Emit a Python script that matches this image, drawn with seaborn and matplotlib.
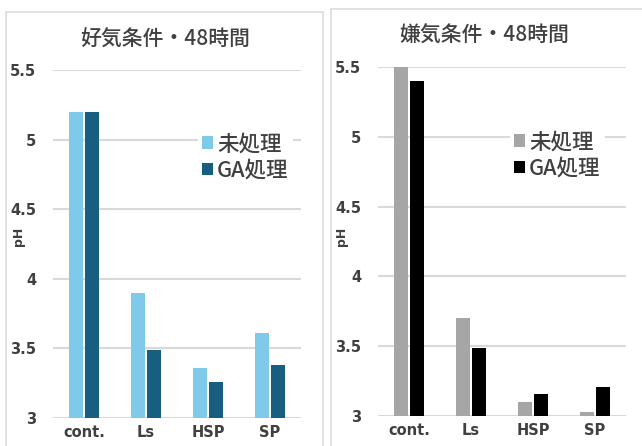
import matplotlib
matplotlib.use("Agg")
import matplotlib.pyplot as plt
from matplotlib.patches import Rectangle
import seaborn as sns
import pandas as pd

sns.set_theme(style="white")
plt.rcParams["font.family"] = ["Noto Sans CJK JP", "DejaVu Sans"]

# Samples and treatments
categories = ["cont.", "Ls", "HSP", "SP"]
treatments = ["未処理", "GA処理"]

# pH after 48 h, aerobic conditions
aerobic_untreated = [5.20, 3.90, 3.36, 3.61]
aerobic_ga = [5.20, 3.49, 3.26, 3.38]

# pH after 48 h, anaerobic conditions
anaerobic_untreated = [5.50, 3.70, 3.10, 3.03]
anaerobic_ga = [5.40, 3.49, 3.16, 3.21]

titles = ["好気条件・48時間", "嫌気条件・48時間"]
yticks = [3, 3.5, 4, 4.5, 5, 5.5]
ytick_labels = ["3", "3.5", "4", "4.5", "5", "5.5"]


def long_table(untreated, ga):
    return pd.DataFrame({
        "sample": categories * 2,
        "treatment": [treatments[0]] * len(categories) + [treatments[1]] * len(categories),
        "pH": list(untreated) + list(ga),
    })


W, H = 642, 446
fig = plt.figure(figsize=(W / 100, H / 100), dpi=100)
fig.patch.set_facecolor("white")

GRID = "#D9D9D9"
TEXT = "#404040"
LATIN = ["DejaVu Sans", "Noto Sans CJK JP"]
CJK = ["Noto Sans CJK JP", "DejaVu Sans"]

# panel frames (pixel boxes converted to figure fractions)
for x0, y0, x1 in [(6, 12, 323), (331, 9, 660)]:
    fig.add_artist(Rectangle((x0 / W, -0.05), (x1 - x0) / W, 1.05 - y0 / H,
                             transform=fig.transFigure, fill=False,
                             ec="#DCDCDC", lw=1.2))

panels = [
    dict(data=long_table(aerobic_untreated, aerobic_ga),
         palette=["#7FCAEB", "#175E80"], box=(53, 70, 301, 418),
         title=titles[0], title_xy=(165, 40), legend_xy=(187, 118),
         ylabel_x=18),
    dict(data=long_table(anaerobic_untreated, anaerobic_ga),
         palette=["#A6A6A6", "#000000"], box=(378, 67, 626, 416),
         title=titles[1], title_xy=(484, 36), legend_xy=(499, 116),
         ylabel_x=342),
]

for p in panels:
    l, t, r, b = p["box"]
    ax = fig.add_axes([l / W, 1 - b / H, (r - l) / W, (b - t) / H])
    sns.barplot(data=p["data"], x="sample", y="pH", hue="treatment",
                palette=p["palette"], width=0.52, gap=0.12, ax=ax,
                saturation=1, errorbar=None, edgecolor="none")
    ax.set_ylim(3, 5.5)
    ax.set_xlim(-0.5, 3.5)
    ax.set_yticks(yticks)
    ax.set_yticklabels(ytick_labels)
    ax.yaxis.grid(True, color=GRID, lw=1.5)
    ax.set_axisbelow(True)
    for s in ax.spines.values():
        s.set_visible(False)
    ax.tick_params(axis="both", length=0, colors=TEXT, labelsize=10.5)
    ax.tick_params(axis="y", pad=12)
    ax.tick_params(axis="x", pad=5)
    for lab in ax.get_xticklabels() + ax.get_yticklabels():
        lab.set_family(LATIN)
        lab.set_fontweight("bold")
    ax.set_xlabel("")
    ax.set_ylabel("")
    fig.text(p["ylabel_x"] / W, 1 - 236 / H, "pH", rotation=90,
             ha="center", va="center", fontsize=9, color=TEXT,
             family=LATIN, fontweight="bold")
    fig.text(p["title_xy"][0] / W, 1 - p["title_xy"][1] / H, p["title"],
             ha="center", va="center", fontsize=15, color=TEXT,
             family=CJK, fontweight="medium")
    handles, labels = ax.get_legend_handles_labels()
    lx, ly = p["legend_xy"]
    leg = ax.legend(handles, labels, loc="upper left",
                    bbox_to_anchor=(lx / W, 1 - ly / H),
                    bbox_transform=fig.transFigure, frameon=True,
                    facecolor="white", edgecolor="none", framealpha=1,
                    fontsize=15.5, handlelength=0.5, handleheight=0.5,
                    handletextpad=0.2, labelspacing=0.2, borderpad=0.2,
                    fancybox=False)
    for txt in leg.get_texts():
        txt.set_color(TEXT)
        txt.set_family(CJK)
        txt.set_fontweight("medium")

fig.savefig("out.png", dpi=100, facecolor="white")
